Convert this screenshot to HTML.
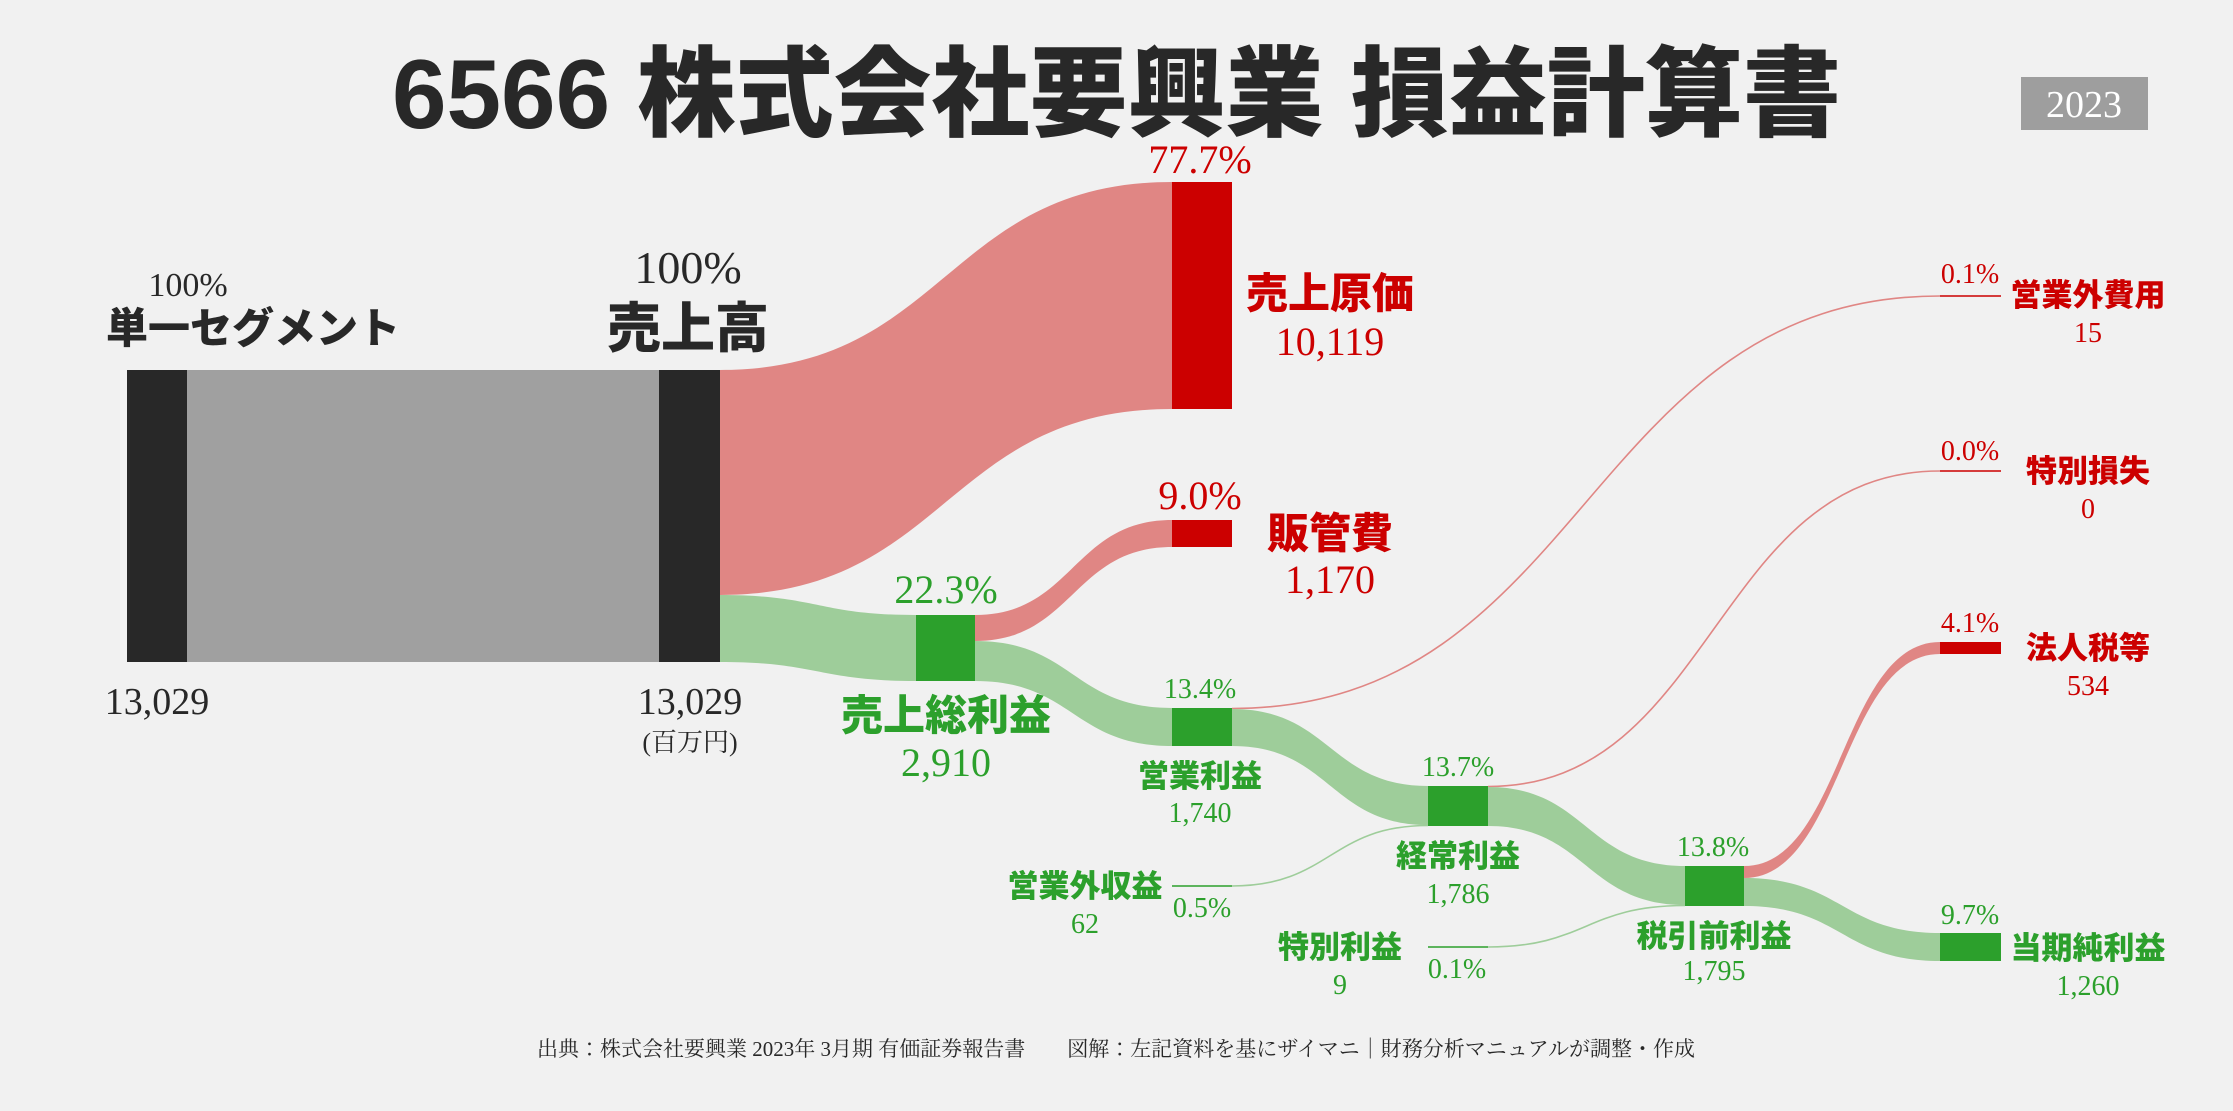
<!DOCTYPE html>
<html><head><meta charset="utf-8"><style>
html,body{margin:0;padding:0;background:#f1f1f1;}
svg{display:block;}
.s{font-family:"Liberation Serif","Noto Serif CJK JP",serif;}
.b{font-family:"Liberation Sans","Noto Sans CJK JP",sans-serif;font-weight:900;}
</style></head><body>
<svg width="2233" height="1111" viewBox="0 0 2233 1111" xmlns="http://www.w3.org/2000/svg">
<rect width="2233" height="1111" fill="#f1f1f1"/>
<text x="392" y="128" textLength="1449" lengthAdjust="spacingAndGlyphs" class="b" font-size="98" fill="#282828">6566 株式会社要興業 損益計算書</text>
<rect x="2021" y="77" width="127" height="53" fill="#9e9e9e"/>
<text x="2084" y="117" text-anchor="middle" class="s" font-size="38" fill="#fff">2023</text>

<!-- flows -->
<rect x="187" y="370" width="472" height="292" fill="#a0a0a0"/>
<path d="M720 370 C946 370 946 182 1172 182 L1172 409 C946 409 946 595 720 595 Z" fill="#e08684"/>
<path d="M720 595 C818 595 818 615 916 615 L916 681 C818 681 818 662 720 662 Z" fill="#9ecd9a"/>
<path d="M975 615 C1073 615 1073 520 1172 520 L1172 547 C1073 547 1073 641 975 641 Z" fill="#e08684"/>
<path d="M975 641 C1073 641 1073 708 1172 708 L1172 746 C1073 746 1073 681 975 681 Z" fill="#9ecd9a"/>
<path d="M1232 708.5 C1586 708.5 1586 296 1940 296" fill="none" stroke="#e08684" stroke-width="1.6"/>
<path d="M1232 709 C1330 709 1330 786 1428 786 L1428 825 C1330 825 1330 746 1232 746 Z" fill="#9ecd9a"/>
<path d="M1232 886 C1330 886 1330 825.5 1428 825.5" fill="none" stroke="#9ecd9a" stroke-width="1.6"/>
<path d="M1488 786.5 C1714 786.5 1714 471 1940 471" fill="none" stroke="#e08684" stroke-width="1.6"/>
<path d="M1488 787 C1586 787 1586 866 1685 866 L1685 905 C1586 905 1586 826 1488 826 Z" fill="#9ecd9a"/>
<path d="M1488 947 C1586 947 1586 905.5 1685 905.5" fill="none" stroke="#9ecd9a" stroke-width="1.6"/>
<path d="M1744 866 C1842 866 1842 642 1940 642 L1940 654 C1842 654 1842 878 1744 878 Z" fill="#e08684"/>
<path d="M1744 878 C1842 878 1842 933 1940 933 L1940 961 C1842 961 1842 906 1744 906 Z" fill="#9ecd9a"/>

<!-- nodes -->
<rect x="127" y="370" width="60" height="292" fill="#282828"/>
<rect x="659" y="370" width="61" height="292" fill="#282828"/>
<rect x="1172" y="182" width="60" height="227" fill="#cc0000"/>
<rect x="1172" y="520" width="60" height="27" fill="#cc0000"/>
<rect x="916" y="615" width="59" height="66" fill="#2ca02c"/>
<rect x="1172" y="708" width="60" height="38" fill="#2ca02c"/>
<rect x="1428" y="786" width="60" height="40" fill="#2ca02c"/>
<rect x="1685" y="866" width="59" height="40" fill="#2ca02c"/>
<rect x="1940" y="933" width="61" height="28" fill="#2ca02c"/>
<rect x="1940" y="642" width="61" height="12" fill="#cc0000"/>
<line x1="1940" y1="296" x2="2001" y2="296" stroke="#cc0000" stroke-width="1.6"/>
<line x1="1940" y1="471" x2="2001" y2="471" stroke="#cc0000" stroke-width="1.6"/>
<line x1="1172" y1="886" x2="1232" y2="886" stroke="#2ca02c" stroke-width="1.6"/>
<line x1="1428" y1="947" x2="1488" y2="947" stroke="#2ca02c" stroke-width="1.6"/>

<!-- labels -->
<g text-anchor="middle">
<text x="188" y="296" class="s" font-size="34" fill="#282828">100%</text>
<text x="253" y="343" class="b" font-size="42" fill="#282828">単一セグメント</text>
<text x="157" y="714" class="s" font-size="38" fill="#282828">13,029</text>
<text x="688" y="283" class="s" font-size="46" fill="#282828">100%</text>
<text x="688" y="347" class="b" font-size="54" fill="#282828">売上高</text>
<text x="690" y="714" class="s" font-size="38" fill="#282828">13,029</text>
<text x="690" y="751" class="s" font-size="26" fill="#282828">(百万円)</text>

<text x="1200" y="173" class="s" font-size="40" fill="#cc0000">77.7%</text>
<text x="1330" y="308" class="b" font-size="42" fill="#cc0000">売上原価</text>
<text x="1330" y="355" class="s" font-size="40" fill="#cc0000">10,119</text>
<text x="1200" y="509" class="s" font-size="40" fill="#cc0000">9.0%</text>
<text x="1330" y="548" class="b" font-size="42" fill="#cc0000">販管費</text>
<text x="1330" y="593" class="s" font-size="40" fill="#cc0000">1,170</text>

<text x="946" y="603" class="s" font-size="40" fill="#2ca02c">22.3%</text>
<text x="946" y="730" class="b" font-size="42" fill="#2ca02c">売上総利益</text>
<text x="946" y="776" class="s" font-size="40" fill="#2ca02c">2,910</text>

<text x="1200" y="698" class="s" font-size="28" fill="#2ca02c">13.4%</text>
<text x="1200" y="787" class="b" font-size="31" fill="#2ca02c">営業利益</text>
<text x="1200" y="822" class="s" font-size="28" fill="#2ca02c">1,740</text>
<text x="1458" y="776" class="s" font-size="28" fill="#2ca02c">13.7%</text>
<text x="1458" y="867" class="b" font-size="31" fill="#2ca02c">経常利益</text>
<text x="1458" y="903" class="s" font-size="28" fill="#2ca02c">1,786</text>
<text x="1713" y="856" class="s" font-size="28" fill="#2ca02c">13.8%</text>
<text x="1714" y="947" class="b" font-size="31" fill="#2ca02c">税引前利益</text>
<text x="1714" y="980" class="s" font-size="28" fill="#2ca02c">1,795</text>
<text x="1970" y="924" class="s" font-size="28" fill="#2ca02c">9.7%</text>
<text x="2088" y="959" class="b" font-size="31" fill="#2ca02c">当期純利益</text>
<text x="2088" y="995" class="s" font-size="28" fill="#2ca02c">1,260</text>

<text x="1970" y="632" class="s" font-size="28" fill="#cc0000">4.1%</text>
<text x="2088" y="659" class="b" font-size="31" fill="#cc0000">法人税等</text>
<text x="2088" y="695" class="s" font-size="28" fill="#cc0000">534</text>
<text x="1970" y="283" class="s" font-size="28" fill="#cc0000">0.1%</text>
<text x="2088" y="306" class="b" font-size="31" fill="#cc0000">営業外費用</text>
<text x="2088" y="342" class="s" font-size="28" fill="#cc0000">15</text>
<text x="1970" y="460" class="s" font-size="28" fill="#cc0000">0.0%</text>
<text x="2088" y="482" class="b" font-size="31" fill="#cc0000">特別損失</text>
<text x="2088" y="518" class="s" font-size="28" fill="#cc0000">0</text>

<text x="1085" y="897" class="b" font-size="31" fill="#2ca02c">営業外収益</text>
<text x="1085" y="933" class="s" font-size="28" fill="#2ca02c">62</text>
<text x="1202" y="917" class="s" font-size="28" fill="#2ca02c">0.5%</text>
<text x="1340" y="958" class="b" font-size="31" fill="#2ca02c">特別利益</text>
<text x="1340" y="994" class="s" font-size="28" fill="#2ca02c">9</text>
<text x="1457" y="978" class="s" font-size="28" fill="#2ca02c">0.1%</text>

<text x="1116" y="1056" class="s" font-size="21" fill="#282828">出典：株式会社要興業 2023年 3月期 有価証券報告書　　図解：左記資料を基にザイマニ｜財務分析マニュアルが調整・作成</text>
</g>
</svg>
</body></html>
